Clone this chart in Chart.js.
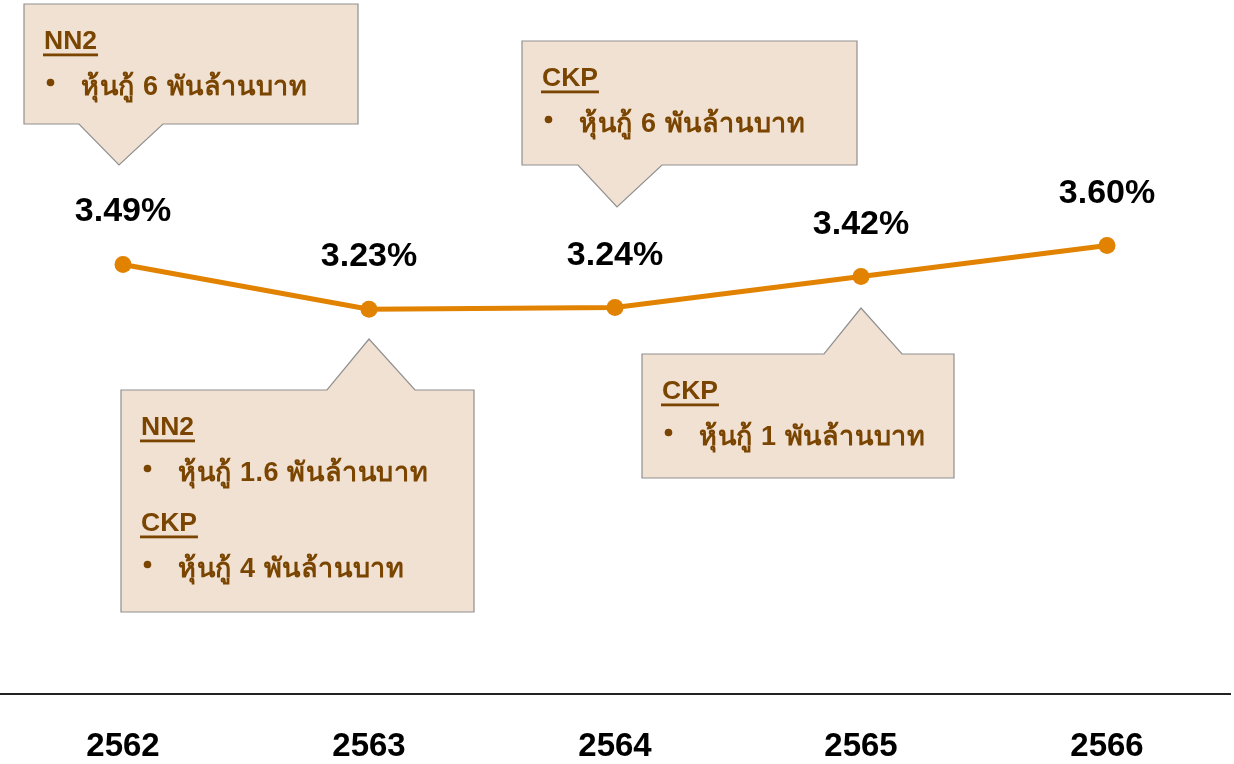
<!DOCTYPE html>
<html>
<head>
<meta charset="utf-8">
<script src="https://cdn.jsdelivr.net/npm/chart.js@4"></script>
<style>
html,body{margin:0;padding:0;background:#fff;}
#wrap{width:1234px;height:764px;position:relative;}
</style>
</head>
<body>
<div id="wrap"><canvas id="c" width="1234" height="764"></canvas></div>
<script>
// ---- data ----
const years = ['2562', '2563', '2564', '2565', '2566'];
const rates = [3.49, 3.23, 3.24, 3.42, 3.60];
const rateLabels = ['3.49%', '3.23%', '3.24%', '3.42%', '3.60%'];

// callout contents (index = category the callout points to)
const calloutIndex = [0, 1, 2, 3];
const calloutText = [
  [['h', 'NN2'], ['b', 'หุ้นกู้ 6 พันล้านบาท']],
  [['h', 'NN2'], ['b', 'หุ้นกู้ 1.6 พันล้านบาท'], ['h', 'CKP'], ['b', 'หุ้นกู้ 4 พันล้านบาท']],
  [['h', 'CKP'], ['b', 'หุ้นกู้ 6 พันล้านบาท']],
  [['h', 'CKP'], ['b', 'หุ้นกู้ 1 พันล้านบาท']]
];

// callout geometry (relative to the category's x pixel; y in pixels)
const calloutGeom = [
  {l: -99, r: 235, t: 4,   b: 124, p1: -44, p2: 40, tx: -4, ty: 165},
  {l: -248, r: 105, t: 390, b: 612, p1: -42, p2: 46, tx: 0, ty: 339},
  {l: -93, r: 242, t: 41,  b: 165, p1: -37, p2: 47, tx: 2, ty: 207},
  {l: -219, r: 93, t: 354, b: 478, p1: -37, p2: 41, tx: 0, ty: 308}
];

const FONT = '"Liberation Sans", Arial, "Noto Sans", sans-serif';
const TEXT_BROWN = '#7a4500';

const calloutPlugin = {
  id: 'callouts',
  afterDatasetsDraw(chart) {
    const ctx = chart.ctx;
    const xs = chart.scales.x;
    ctx.save();
    calloutIndex.forEach((idx, k) => {
      const g = calloutGeom[k];
      const cx = xs.getPixelForValue(idx);
      const L = cx + g.l, R = cx + g.r, T = g.t, B = g.b;
      const below = g.ty > B;
      ctx.beginPath();
      if (below) {
        ctx.moveTo(L, T); ctx.lineTo(R, T); ctx.lineTo(R, B);
        ctx.lineTo(cx + g.p2, B); ctx.lineTo(cx + g.tx, g.ty); ctx.lineTo(cx + g.p1, B);
        ctx.lineTo(L, B); ctx.closePath();
      } else {
        ctx.moveTo(L, T); ctx.lineTo(cx + g.p1, T); ctx.lineTo(cx + g.tx, g.ty);
        ctx.lineTo(cx + g.p2, T); ctx.lineTo(R, T); ctx.lineTo(R, B);
        ctx.lineTo(L, B); ctx.closePath();
      }
      ctx.fillStyle = '#f1e1d3';
      ctx.fill();
      ctx.strokeStyle = '#8f8f8f';
      ctx.lineWidth = 1.2;
      ctx.stroke();

      ctx.fillStyle = TEXT_BROWN;
      ctx.textAlign = 'left';
      ctx.textBaseline = 'alphabetic';
      calloutText[k].forEach((ln, i) => {
        const y = T + 45 + i * 48;
        if (ln[0] === 'h') {
          ctx.font = 'bold 26.5px ' + FONT;
          ctx.letterSpacing = '0px';
          ctx.fillText(ln[1], L + 20, y);
          const w = ctx.measureText(ln[1]).width;
          ctx.fillRect(L + 19, y + 4.5, w + 2, 2.8);
        } else {
          const yb = y - 2;
          ctx.beginPath();
          ctx.arc(L + 26.5, yb - 12.5, 3.8, 0, Math.PI * 2);
          ctx.fill();
          ctx.font = 'bold 27px ' + FONT;
          ctx.letterSpacing = '0.6px';
          ctx.fillText(ln[1], L + 57, yb);
        }
      });
    });
    ctx.restore();
  }
};

const valueLabelPlugin = {
  id: 'valueLabels',
  afterDatasetsDraw(chart) {
    const ctx = chart.ctx;
    const meta = chart.getDatasetMeta(0);
    ctx.save();
    ctx.fillStyle = '#000';
    ctx.font = 'bold 34px ' + FONT;
    ctx.textAlign = 'center';
    ctx.textBaseline = 'alphabetic';
    meta.data.forEach((pt, i) => {
      ctx.fillText(rateLabels[i], pt.x, pt.y - 43);
    });
    ctx.restore();
  }
};

new Chart(document.getElementById('c'), {
  type: 'line',
  data: {
    labels: years,
    datasets: [{
      data: rates,
      borderColor: '#e18200',
      backgroundColor: '#e18200',
      borderWidth: 5,
      pointRadius: 8.5,
      pointBackgroundColor: '#e18200',
      pointBorderWidth: 0,
      tension: 0,
      clip: false
    }]
  },
  options: {
    responsive: false,
    animation: false,
    devicePixelRatio: 1,
    layout: {autoPadding: false, padding: {top: 4, right: 4, left: 0, bottom: 0}},
    plugins: {legend: {display: false}, tooltip: {enabled: false}},
    scales: {
      x: {
        offset: true,
        grid: {display: false, drawTicks: false},
        border: {display: true, color: '#222', width: 2},
        ticks: {color: '#000', font: {family: FONT, size: 33, weight: 'bold'}, padding: 33, maxRotation: 0},
        afterFit(scale) { scale.height = 70; scale.paddingLeft = 0; scale.paddingRight = 0; }
      },
      y: {
        display: false,
        min: 1,
        max: 5
      }
    }
  },
  plugins: [valueLabelPlugin, calloutPlugin]
});
</script>
</body>
</html>
